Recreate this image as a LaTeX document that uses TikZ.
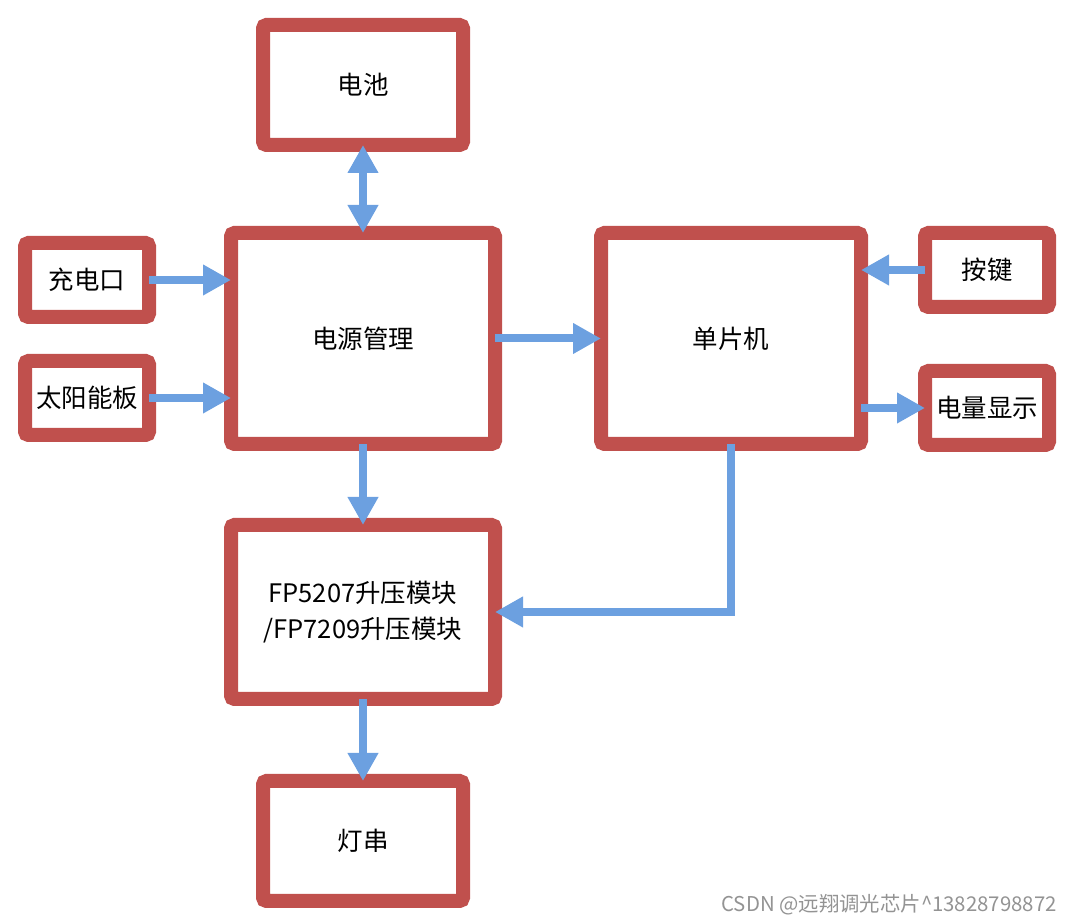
\documentclass[tikz,border=0pt]{standalone}
\usepackage{fontspec}
\setmainfont{Noto Sans CJK SC}
\usetikzlibrary{arrows.meta}
\definecolor{boxred}{RGB}{192,80,77}
\definecolor{flowblue}{RGB}{108,160,224}
\begin{document}
\begin{tikzpicture}[
    box/.style={draw=boxred, line width=0.28cm, rounded corners=2pt, fill=white, outer sep=0pt, inner sep=0pt, align=center, font=\fontsize{14.5}{20.5}\selectfont},
    smallbox/.style={box, minimum width=2.48cm, minimum height=1.48cm},
    flow/.style={draw=flowblue, line width=0.16cm, -{Triangle[width=0.58cm,length=0.56cm]}},
    twoway/.style={flow, {Triangle[width=0.58cm,length=0.56cm]}-{Triangle[width=0.58cm,length=0.56cm]}}
]
    \useasboundingbox (0,0) rectangle (21.52,18.48);

    \node[box, minimum width=4cm, minimum height=2.4cm] (bat) at (7.26,16.78) {电池};
    \node[box, minimum width=5.28cm, minimum height=4.22cm] (pm) at (7.26,11.71) {电源管理};
    \node[box, minimum width=5.2cm, minimum height=4.22cm] (mcu) at (14.62,11.71) {单片机};
    \node[smallbox] (port) at (1.74,12.88) {充电口};
    \node[smallbox] (solar) at (1.74,10.52) {太阳能板};
    \node[smallbox] (key) at (19.74,13.08) {按键};
    \node[smallbox] (disp) at (19.74,10.32) {电量显示};
    \node[box, minimum width=5.28cm, minimum height=3.48cm] (boost) at (7.26,6.24) {FP5207升压模块\\/FP7209升压模块};
    \node[box, minimum width=4cm, minimum height=2.4cm] (led) at (7.26,1.66) {灯串};

    \draw[twoway] (bat) -- (pm);
    \draw[flow] (port) -- (port -| pm.west);
    \draw[flow] (solar) -- (solar -| pm.west);
    \draw[flow] (pm) -- (mcu);
    \draw[flow] (key) -- (key -| mcu.east);
    \draw[flow] (mcu.east |- disp) -- (disp);
    \draw[flow] (pm) -- (boost);
    \draw[flow] (mcu.south) |- (boost.east);
    \draw[flow] (boost) -- (led);

    \node[anchor=east, text=gray!85, font=\fontsize{11.6}{13}\selectfont] (mark) at (21.26,0.38) {CSDN @远翔调光芯片\textasciicircum 13828798872};
\end{tikzpicture}
\end{document}
